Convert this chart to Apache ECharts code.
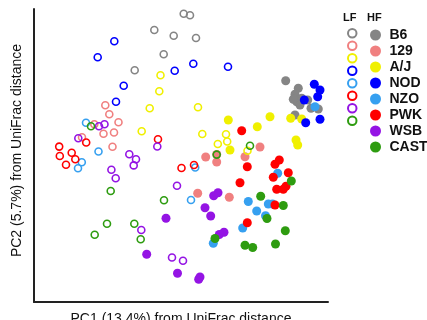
<!DOCTYPE html>
<html>
<head>
<meta charset="utf-8">
<script src="https://cdn.jsdelivr.net/npm/echarts@6/dist/echarts.min.js"></script>
<style>html,body{margin:0;padding:0;background:#fff}#c{width:427px;height:320px}</style>
</head>
<body>
<div id="c"></div>
<script>
// Strain names and colours
const strains = ['B6', '129', 'A/J', 'NOD', 'NZO', 'PWK', 'WSB', 'CAST'];
const colors = ['#858585', '#F08080', '#F0F000', '#0000FF', '#36A0F0', '#FF0000', '#9414E4', '#2E9C10'];

// PC1 / PC2 scores (arbitrary units); LF = open, HF = filled
const B6_LF = [[120.3,272],[139.7,266.3],[129.7,247.7],[100.7,231.7],[149.7,288.3],[156,286.7],[162,264]];
const B6_HF = [[251.7,221.3],[264.3,213.7],[261,207.7],[267.7,203.7],[273.7,202],[262.7,200.3],[266,197],[277,193.7],[284.3,193],[261,187],[259.3,202.7]];
const S129_LF = [[71.3,196.8],[75.3,187.7],[84.5,179.7],[69.5,168.3],[80,169.5],[78.5,155.2],[60.3,177.7],[48,164.7]];
const S129_HF = [[226,155],[171.7,145],[182.7,140],[182.7,147.5],[211,145.3],[163.7,108.7],[195.3,104.7]];
const AJ_LF = [[126.5,226.7],[125.3,210.7],[115.7,193.7],[107.7,170.7],[164,194.7],[168.3,168],[192,167.8],[193.2,160.5],[183.8,158],[213.5,151.3]];
const AJ_HF = [[194.3,182],[223.3,175.3],[236,185.3],[256.7,183.7],[267.7,183],[262,162],[263.7,157],[196,152]];
const NOD_LF = [[80.3,260.7],[63.7,244.7],[140.7,231.2],[89.7,216.3],[82,200.2],[159.3,238.3],[194,235.3]];
const NOD_HF = [[280.3,217.7],[286,212],[283.7,205.3],[270.3,202],[286,182.7],[271.7,179.3]];
const NZO_LF = [[52,179.3],[64.5,150.5],[47.8,139.7],[44,133.8],[161.2,134.5],[157,102]];
const NZO_HF = [[243.7,128.7],[214.3,100.5],[234.3,98],[238.5,98],[222.7,91],[231.5,86.2],[208.7,74],[179.3,58.7],[281,195.3]];
const PWK_LF = [[124,162.7],[52.2,159.5],[25.2,155.4],[25.8,146],[37.7,149.2],[41.3,142.8],[32,137.2],[147.5,134],[160,137]];
const PWK_HF = [[207.7,171.3],[213.3,135.3],[206,119.3],[245.3,142],[241,137.7],[254.3,129.3],[239.3,124.7],[242.7,112.7],[249.3,112.7],[252,115.7],[241,97],[213.3,79.3]];
const WSB_LF = [[65,175.8],[70.5,177.8],[44.3,163.8],[123.3,155.5],[95.3,147.7],[102,142.7],[99.7,136.6],[77.4,132.3],[81.7,123.7],[143,116.3],[107.3,72],[138,44.5],[149,41.3]];
const WSB_HF = [[184,109.2],[179.7,106.2],[171,94.2],[176.7,86],[190,69.7],[185.3,67.5],[132,83.7],[112.7,47.7],[143.5,28.8],[166,25],[164.7,22.7]];
const CAST_LF = [[57,175.8],[76.7,111],[130,101.7],[73,78.3],[100.3,78.3],[60.7,67.3],[106.7,62.7],[182.7,147.4],[216,156.3]];
const CAST_HF = [[257.3,121],[226.7,105.7],[249.3,96.5],[233,83.5],[251.3,71.2],[181,63.5],[211,56.7],[218.7,54.5],[241.5,58]];

const lfData = [B6_LF, S129_LF, AJ_LF, NOD_LF, NZO_LF, PWK_LF, WSB_LF, CAST_LF];
const hfData = [B6_HF, S129_HF, AJ_HF, NOD_HF, NZO_HF, PWK_HF, WSB_HF, CAST_HF];

const axisTitleX = 'PC1 (13.4%) from UniFrac distance';
const axisTitleY = 'PC2 (5.7%) from UniFrac distance';

const FONT = 'Liberation Sans, Arial, sans-serif';

const series = [];
strains.forEach((s, i) => {
  series.push({
    name: s + ' HF', type: 'scatter', data: hfData[i], symbol: 'circle', symbolSize: 9,
    itemStyle: { color: colors[i], opacity: 1 }, z: 2
  });
});
strains.forEach((s, i) => {
  series.push({
    name: s + ' LF', type: 'scatter', data: lfData[i], symbol: 'circle', symbolSize: 7,
    itemStyle: { color: 'rgba(255,255,255,0)', borderColor: colors[i], borderWidth: 1.6, opacity: 1 }, z: 3
  });
});

const chart = echarts.init(document.getElementById('c'), null, { renderer: 'canvas' });
chart.setOption({
  animation: false,
  backgroundColor: '#fff',
  grid: { left: 34, right: 99, top: 9, bottom: 18, containLabel: false, outerBoundsMode: 'none' },
  xAxis: {
    type: 'value', min: 0, max: 294,
    axisLine: { show: true, lineStyle: { color: '#222', width: 2 } },
    axisTick: { show: false }, axisLabel: { show: false }, splitLine: { show: false },
    name: axisTitleX, nameLocation: 'middle', nameGap: 10, nameMoveOverlap: false,
    nameTextStyle: { fontFamily: FONT, fontSize: 14, color: '#111' }
  },
  yAxis: {
    type: 'value', min: 0, max: 293,
    axisLine: { show: true, lineStyle: { color: '#222', width: 2 } },
    axisTick: { show: false }, axisLabel: { show: false }, splitLine: { show: false },
    name: axisTitleY, nameLocation: 'middle', nameGap: 10, nameMoveOverlap: false,
    nameTextStyle: { fontFamily: FONT, fontSize: 14, color: '#111', padding: [0, 0, 0, 10] }
  },
  legend: [
    {
      data: strains.map(s => s + ' LF'), orient: 'vertical', left: 342, top: 23,
      itemWidth: 18, itemHeight: 8.5, itemGap: 2, icon: 'circle',
      formatter: () => '', selectedMode: false,
      textStyle: { fontFamily: FONT, fontSize: 14, lineHeight: 14 }
    },
    {
      data: strains.map(s => s + ' HF'), orient: 'vertical', left: 365, top: 23,
      itemWidth: 18, itemHeight: 11, itemGap: 2, icon: 'circle',
      formatter: n => n.replace(' HF', ''), selectedMode: false,
      textStyle: { fontFamily: FONT, fontSize: 14, lineHeight: 14, fontWeight: 'bold', color: '#111' }
    }
  ],
  graphic: [
    { type: 'text', left: 343, top: 12, style: { text: 'LF', font: 'bold 11px ' + FONT, fill: '#111' } },
    { type: 'text', left: 367, top: 12, style: { text: 'HF', font: 'bold 11px ' + FONT, fill: '#111' } }
  ],
  series: series
});
</script>
</body>
</html>
